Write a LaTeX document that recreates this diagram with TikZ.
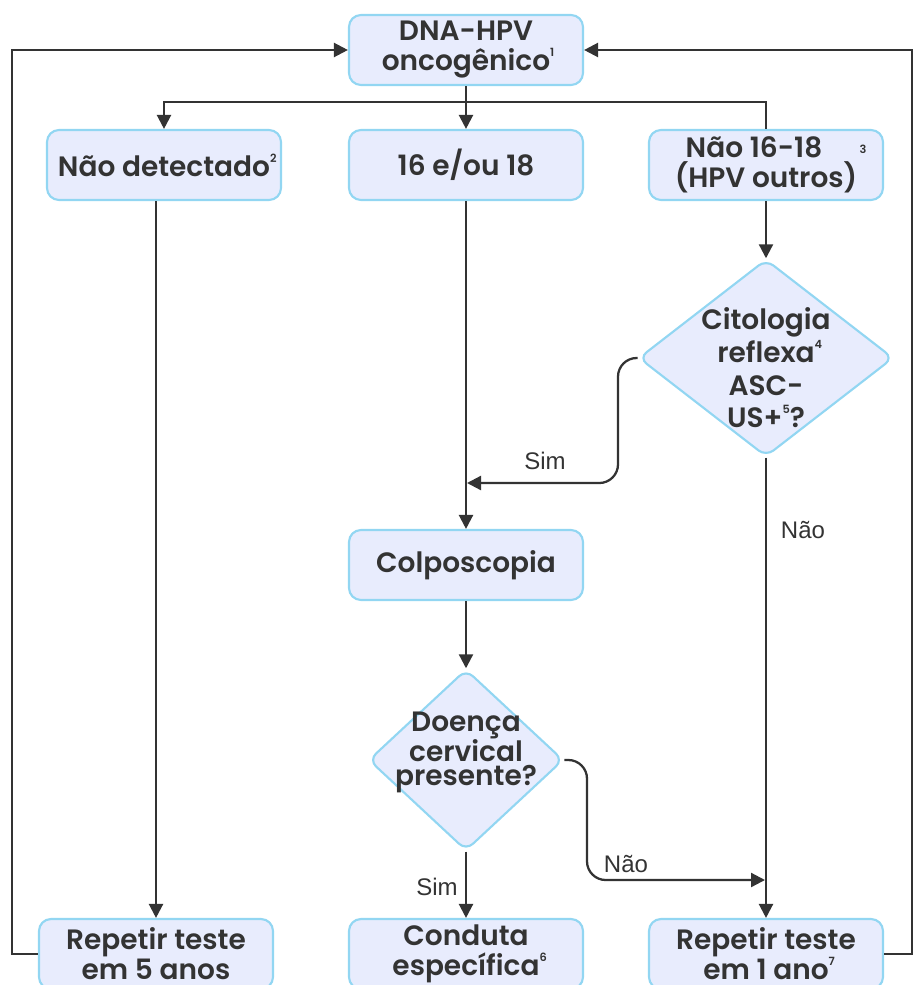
\documentclass[tikz,border=0pt]{standalone}
\usepackage{fontspec}
\setmainfont{Poppins}[UprightFont=* SemiBold, BoldFont=* Bold]
\newfontfamily\lblfont{Liberation Sans}
\usetikzlibrary{arrows.meta,shapes.geometric}
\definecolor{boxfill}{HTML}{E8ECFD}
\definecolor{boxline}{HTML}{92D6F2}
\definecolor{ink}{HTML}{333333}
% small raised footnote number
\newcommand{\fnum}[1]{\raisebox{0.5em}{\fontsize{8.5}{8.5}\selectfont #1}}
\tikzset{
  box/.style={rectangle, rounded corners=9pt, draw=boxline, fill=boxfill,
    line width=1.6pt, minimum width=175.5pt, minimum height=52.5pt,
    inner sep=0pt, align=center, text=ink, font=\fontsize{21}{22.5}\selectfont},
  decision/.style={diamond, draw=boxline, fill=boxfill, line width=1.6pt,
    rounded corners=7pt, inner sep=0pt},
  dtext/.style={text=ink, align=center, inner sep=0pt},
  link/.style={draw=ink, line width=1.7pt},
  flow/.style={link, -{Triangle[length=10.5pt,width=10.5pt]}},
  lbl/.style={text=ink, inner sep=0pt, font=\lblfont\fontsize{18}{18}\selectfont}
}
\begin{document}
\begin{tikzpicture}[x=0.75pt,y=-0.75pt]
\useasboundingbox (0,0) rectangle (913,985);

% top test
\node[box] (top) at (466,50) {DNA-HPV\\oncogênico\rlap{\fnum{1}}};

% first-level results
\node[box] (nd)    at (164,165) {Não detectado\rlap{\fnum{2}}};
\node[box] (b16)   at (466,165) {16 e/ou 18};
\node[box] (n1618) at (766,165)
  {\hspace*{-18pt}Não 16-18\rlap{\hspace{28pt}\raisebox{0.15em}{\fontsize{8.5}{8.5}\selectfont 3}}\\(HPV outros)};

% reflex cytology decision
\node[decision, minimum width=191pt, minimum height=148pt] (q1) at (766,358) {};
\node[dtext, font=\fontsize{21}{24.5}\selectfont] (q1t) at (766,368)
  {Citologia\\reflexa\rlap{\fnum{4}}\\ASC-\\US+\fnum{5}?};

% colposcopy
\node[box] (colp) at (466,565) {Colposcopia};

% cervical disease decision
\node[decision, minimum width=146pt, minimum height=136pt] (q2) at (466,760) {};
\node[dtext, font=\fontsize{21}{17.5}\selectfont] (q2t) at (466,752)
  {Doença\\cervical\\presente?};

% outcomes
\node[box] (r5)   at (156,954) {Repetir teste\\em 5 anos};
\node[box] (cond) at (466,954) {Conduta\\específica\rlap{\fnum{6}}};
\node[box] (r1)   at (766,954) {Repetir teste\\em 1 ano\rlap{\fnum{7}}};

% split below the first test
\coordinate (split) at (466,102);
\draw[link] (top.south) -- (split);
\draw[flow] (split) -| (nd.north);
\draw[flow] (split) -- (b16.north);
\draw[link] (split) -| (n1618.north);

% vertical flows
\draw[flow] (nd.south -| r5.north) -- (r5.north);
\draw[flow] (b16.south) -- (colp.north);
\draw[flow] (n1618.south) -- (q1.north);
\draw[flow] (q1.south) -- (r1.north);
\draw[flow] (colp.south) -- (q2.north);
\draw[flow] (q2.south) -- (cond.north);

% branch joins
\coordinate (simjoin) at (467,483);
\draw[flow, rounded corners=14pt] (q1.west) -| (618,483) -- (simjoin);
\coordinate (naojoin) at (765,880);
\draw[flow, rounded corners=14pt] (q2.east) -| (587,880) -- (naojoin);

% return loops to the test
\draw[flow] (r5.west) -- (12,954) -- (12,50) -- (top.west);
\draw[flow] (r1.east) -- (912,954) -- (912,50) -- (top.east);

% branch labels
\node[lbl] (sim1) at (545,461) {Sim};
\node[lbl] (nao1) at (803,530) {Não};
\node[lbl] (sim2) at (437,887) {Sim};
\node[lbl] (nao2) at (626,864) {Não};
\end{tikzpicture}
\end{document}
